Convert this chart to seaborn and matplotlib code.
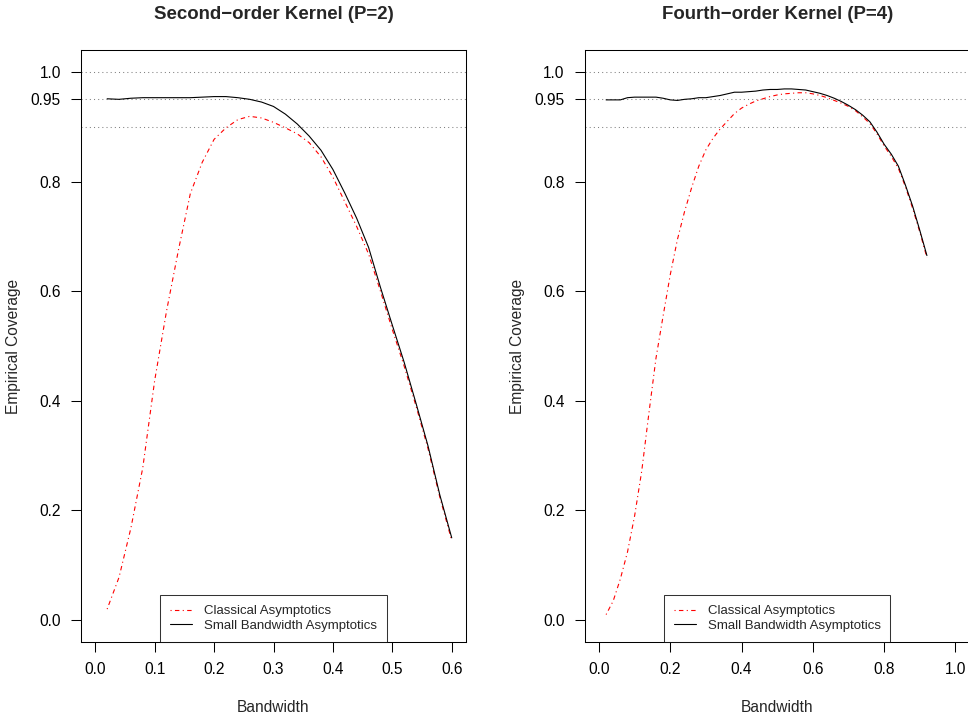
import pandas as pd
import matplotlib
matplotlib.use("Agg")
import matplotlib.pyplot as plt
import seaborn as sns

# bandwidth grids
bw_p2 = [0.02, 0.04, 0.06, 0.08, 0.10, 0.12, 0.14, 0.16, 0.18, 0.20,
         0.22, 0.24, 0.26, 0.28, 0.30, 0.32, 0.34, 0.36, 0.38, 0.40,
         0.42, 0.44, 0.46, 0.48, 0.50, 0.52, 0.54, 0.56, 0.58, 0.60]
bw_p4 = [0.02, 0.04, 0.06, 0.08, 0.10, 0.12, 0.14, 0.16, 0.18, 0.20,
         0.22, 0.24, 0.26, 0.28, 0.30, 0.32, 0.34, 0.36, 0.38, 0.40,
         0.42, 0.44, 0.46, 0.48, 0.50, 0.52, 0.54, 0.56, 0.58, 0.60,
         0.62, 0.64, 0.66, 0.68, 0.70, 0.72, 0.74, 0.76, 0.78, 0.80,
         0.82, 0.84, 0.86, 0.88, 0.90, 0.92]

# empirical coverage, second-order kernel
classical_p2 = [0.020, 0.078, 0.168, 0.278, 0.437, 0.564, 0.675, 0.778, 0.835, 0.877,
                0.898, 0.913, 0.919, 0.916, 0.908, 0.898, 0.887, 0.871, 0.845, 0.808,
                0.763, 0.718, 0.668, 0.600, 0.530, 0.463, 0.390, 0.313, 0.224, 0.145]
small_bw_p2 = [0.951, 0.950, 0.952, 0.953, 0.953, 0.953, 0.953, 0.953, 0.954, 0.955,
               0.955, 0.953, 0.950, 0.945, 0.937, 0.923, 0.905, 0.883, 0.857, 0.822,
               0.779, 0.733, 0.680, 0.607, 0.538, 0.470, 0.395, 0.318, 0.228, 0.150]

# empirical coverage, fourth-order kernel
classical_p4 = [0.010, 0.035, 0.075, 0.124, 0.190, 0.272, 0.377, 0.478, 0.555, 0.630,
                0.694, 0.745, 0.789, 0.828, 0.858, 0.879, 0.896, 0.910, 0.924, 0.934,
                0.941, 0.947, 0.951, 0.955, 0.958, 0.960, 0.961, 0.962, 0.962, 0.960,
                0.957, 0.953, 0.948, 0.943, 0.937, 0.929, 0.918, 0.906, 0.887, 0.865,
                0.846, 0.824, 0.790, 0.751, 0.708, 0.661]
small_bw_p4 = [0.949, 0.949, 0.949, 0.953, 0.954, 0.954, 0.954, 0.954, 0.952, 0.949,
               0.948, 0.950, 0.951, 0.953, 0.953, 0.955, 0.957, 0.960, 0.963, 0.963,
               0.964, 0.965, 0.967, 0.968, 0.968, 0.969, 0.969, 0.968, 0.967, 0.964,
               0.961, 0.957, 0.952, 0.946, 0.939, 0.931, 0.921, 0.909, 0.890, 0.868,
               0.850, 0.828, 0.793, 0.755, 0.711, 0.665]

ref_levels = [1.0, 0.95, 0.90]
y_ticks = [0.0, 0.2, 0.4, 0.6, 0.8, 0.95, 1.0]
y_labels = ["0.0", "0.2", "0.4", "0.6", "0.8", "0.95", "1.0"]
x_ticks_p2 = [0.0, 0.1, 0.2, 0.3, 0.4, 0.5, 0.6]
x_ticks_p4 = [0.0, 0.2, 0.4, 0.6, 0.8, 1.0]
titles = ["Second\u2212order Kernel (P=2)", "Fourth\u2212order Kernel (P=4)"]
legend_names = ["Classical Asymptotics", "Small Bandwidth Asymptotics"]

sns.set_style("white")
plt.rcParams['font.family'] = ['Liberation Sans', 'DejaVu Sans']
plt.rcParams['font.size'] = 11.2

fig = plt.figure(figsize=(9.68, 7.23), dpi=100)
ax1 = fig.add_axes([81/968, 81/723, 385/968, 592/723])
ax2 = fig.add_axes([584.7/968, 81/723, 385/968, 592/723])

panels = [
    (ax1, bw_p2, classical_p2, small_bw_p2, x_ticks_p2, (0.0, 0.6)),
    (ax2, bw_p4, classical_p4, small_bw_p4, x_ticks_p4, (0.0, 1.0)),
]

for i, (ax, bw, cl, sb, xt, xr) in enumerate(panels):
    df = pd.DataFrame({"bw": bw, "classical": cl, "small": sb})
    # reference lines
    for lev in ref_levels:
        ax.axhline(lev, color="#808080", linestyle=(0, (1, 3)), linewidth=0.75, zorder=1)
    sns.lineplot(x="bw", y="classical", data=df, ax=ax, color="red",
                 linestyle=(0, (1, 3, 4, 3)), linewidth=0.8, label=legend_names[0])
    sns.lineplot(x="bw", y="small", data=df, ax=ax, color="black",
                 linewidth=0.8, label=legend_names[1])

    pad = 0.04 * (xr[1] - xr[0])
    ax.set_xlim(xr[0] - pad, xr[1] + pad)
    ax.set_ylim(-0.04, 1.04)
    ax.set_xticks(xt)
    ax.set_xticklabels(["%.1f" % v for v in xt])
    ax.set_yticks(y_ticks)
    ax.set_yticklabels(y_labels)
    ax.tick_params(axis="both", direction="out", length=7.2, width=0.75,
                   pad=7.3, labelsize=11.2, colors="black",
                   bottom=True, left=True)
    for sp in ax.spines.values():
        sp.set_visible(True)
        sp.set_color("black")
        sp.set_linewidth(0.75)

    ax.set_xlabel("Bandwidth", fontsize=11.2)
    ax.set_ylabel("Empirical Coverage", fontsize=11.2)
    ax.xaxis.set_label_coords(0.5, -0.098)
    ax.yaxis.set_label_coords(-0.155, 0.5)
    ax.set_title(titles[i], fontsize=13.4, fontweight="bold", pad=22)

    leg = ax.legend(loc="lower center", borderaxespad=0, fontsize=9.5,
                    fancybox=False, frameon=True, handlelength=1.65,
                    handletextpad=0.9, borderpad=0.75, labelspacing=0.2)
    leg.get_frame().set_edgecolor("black")
    leg.get_frame().set_linewidth(0.75)

plt.savefig("out.png", dpi=100)
